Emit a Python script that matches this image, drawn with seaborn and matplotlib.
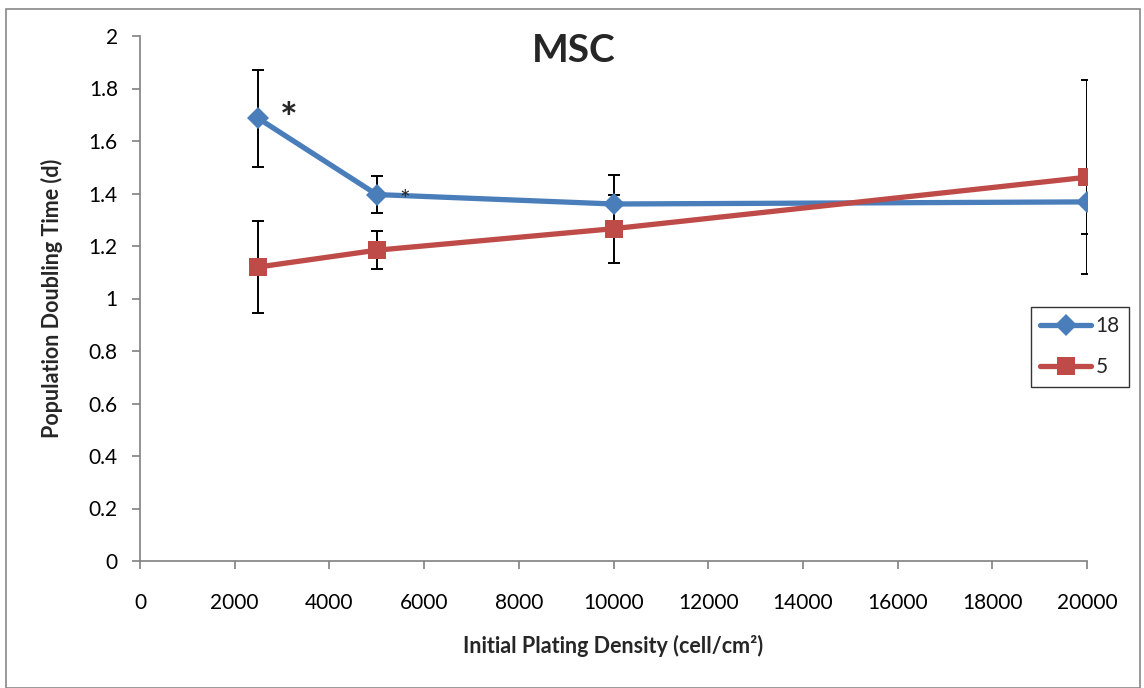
import matplotlib
matplotlib.use("Agg")
import matplotlib.pyplot as plt
import seaborn as sns
import pandas as pd
from matplotlib.patches import Rectangle

density = [2500, 5000, 10000, 20000]
pdt_18 = [1.686, 1.396, 1.360, 1.368]
err_18 = [0.185, 0.071, 0.112, 0.123]
pdt_5 = [1.120, 1.184, 1.266, 1.462]
err_5 = [0.176, 0.073, 0.130, 0.370]
series_names = ["18", "5"]
x_ticks = [0, 2000, 4000, 6000, 8000, 10000, 12000, 14000, 16000, 18000, 20000]
y_ticks = [0, 0.2, 0.4, 0.6, 0.8, 1, 1.2, 1.4, 1.6, 1.8, 2]
y_tick_labels = ["0", "0.2", "0.4", "0.6", "0.8", "1", "1.2", "1.4", "1.6", "1.8", "2"]

sns.set_theme(style="white")
plt.rcParams['font.family'] = ['Lato', 'DejaVu Sans']

df = pd.DataFrame({
    "density": density * 2,
    "pdt": pdt_18 + pdt_5,
    "err": err_18 + err_5,
    "series": [series_names[0]] * 4 + [series_names[1]] * 4,
})

colors = {"18": "#4A7EBB", "5": "#BE4B48"}
markers = {"18": "D", "5": "s"}
msizes = {"18": 11, "5": 12.5}

fig = plt.figure(figsize=(11.44, 6.88), dpi=100)
ax = fig.add_axes([140/1144, 1 - 561/688, (1087-140)/1144, (561-36)/688])

for name in series_names:
    sub = df[df.series == name]
    ax.errorbar(sub.density, sub.pdt, yerr=sub.err, fmt="none", ecolor="black",
                elinewidth=1.4, capsize=4, capthick=1.4, zorder=2)

for name in series_names:
    sub = df[df.series == name]
    sns.lineplot(data=sub, x="density", y="pdt", ax=ax, color=colors[name],
                 linewidth=3.8, marker=markers[name], markersize=msizes[name],
                 markeredgewidth=0, label=name, zorder=3)

ax.set_xlim(0, 20000)
ax.set_ylim(0, 2)
ax.set_xticks(x_ticks)
ax.set_xticklabels([str(t) for t in x_ticks])
ax.set_yticks(y_ticks)
ax.set_yticklabels(y_tick_labels)
ax.tick_params(axis="both", labelsize=15, colors="#808080", labelcolor="black",
               direction="out", length=6, width=1.2, left=True, bottom=True)
ax.tick_params(axis="x", pad=17)
ax.tick_params(axis="y", pad=10)

for s in ["top", "right"]:
    ax.spines[s].set_visible(False)
for s in ["left", "bottom"]:
    ax.spines[s].set_color("#808080")
    ax.spines[s].set_linewidth(1.2)

ax.set_xlabel("Initial Plating Density (cell/cm²)", fontsize=15.5, fontweight="bold")
ax.set_ylabel("Population Doubling Time (d)", fontsize=15.5, fontweight="bold")
ax.xaxis.label.set_va("center")
ax.yaxis.label.set_va("center")
ax.xaxis.set_label_coords(0.5, (561 - 646) / 525)
ax.yaxis.set_label_coords((52 - 140) / 947, 0.5)
ax.set_title("MSC", fontsize=28, fontweight="bold", y=0.935, x=0.4575)

ax.text(3150, 1.675, "*", fontsize=30, fontweight="bold", ha="center", va="center")
ax.text(5600, 1.375, "*", fontsize=18, ha="center", va="center")

leg = ax.legend(loc="upper left", bbox_to_anchor=(1031/1144, 1 - 307/688),
                bbox_transform=fig.transFigure, fontsize=15, frameon=True,
                fancybox=False, edgecolor="black", handlelength=2.45,
                borderpad=0.45, labelspacing=1.0, handletextpad=0.2,
                borderaxespad=0)
leg.get_frame().set_linewidth(1.0)

fig.patches.append(Rectangle((6/1144, 0), (1140-6)/1144, 1 - 9/688,
                             transform=fig.transFigure, fill=False,
                             edgecolor="#888888", linewidth=1.2))

fig.savefig("out.png", dpi=100)
